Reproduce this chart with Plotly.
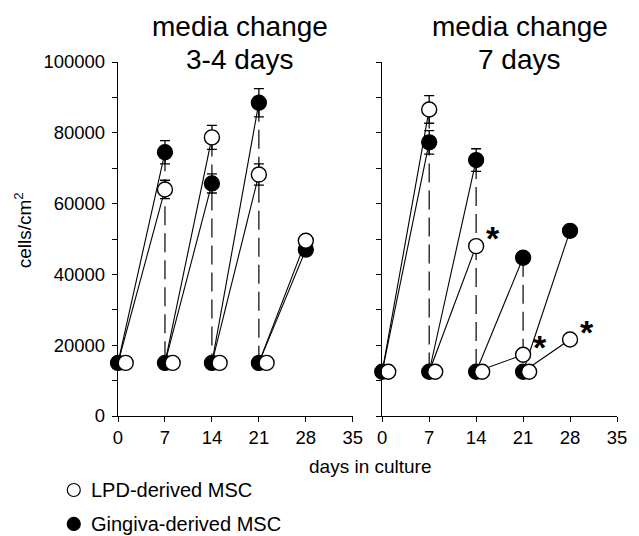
import plotly.graph_objects as go

# ---------------- data ----------------
seed_days = [0, 7, 14, 21]
peak_days = [7, 14, 21, 28]

left_seed = 15000
left_gingiva_peak = [74500, 65700, 88500, 47000]
left_gingiva_err = [3300, 2700, 4000, 0]
left_lpd_peak = [64000, 78700, 68200, 49500]
left_lpd_err = [2600, 3400, 3000, 0]

right_seed = 12500
right_gingiva_peak = [77300, 72300, 44700, 52300]
right_gingiva_err = [3300, 3200, 1200, 0]
right_lpd_peak = [86600, 48000, 17300, 21600]
right_lpd_err = [3900, 0, 0, 0]
right_lpd_signif = [False, True, True, True]

x_ticks = [0, 7, 14, 21, 28, 35]
y_ticks = [0, 20000, 40000, 60000, 80000, 100000]
y_ticktext = ["0", "20000", "40000", "60000", "80000", "100000"]
y_minor_step = 10000

titles = [["media change", "3-4 days"], ["media change", "7 days"]]
legend_names = ["LPD-derived MSC", "Gingiva-derived MSC"]

FONT = "Liberation Sans, Arial, Helvetica, sans-serif"

fig = go.Figure()

panels = [
    ("x", "y", left_seed, left_gingiva_peak, left_gingiva_err, left_lpd_peak, left_lpd_err, 1.15),
    ("x2", "y2", right_seed, right_gingiva_peak, right_gingiva_err, right_lpd_peak, right_lpd_err, 0.9),
]

for xa, ya, seed, g_peak, g_err, l_peak, l_err, off in panels:
    # growth lines
    for peaks in (g_peak, l_peak):
        xs, ys = [], []
        for s, p, v in zip(seed_days, peak_days, peaks):
            xs += [s, p, None]
            ys += [seed, v, None]
        fig.add_trace(go.Scatter(x=xs, y=ys, mode="lines", xaxis=xa, yaxis=ya,
                                 line=dict(color="black", width=1.1),
                                 showlegend=False, hoverinfo="skip", cliponaxis=False))
    # dashed media-change verticals
    xs, ys = [], []
    for p, gv, lv in zip(peak_days[:3], g_peak[:3], l_peak[:3]):
        xs += [p, p, None]
        ys += [max(gv, lv), seed, None]
    fig.add_trace(go.Scatter(x=xs, y=ys, mode="lines", xaxis=xa, yaxis=ya,
                             line=dict(color="black", width=1.2, dash="19px,8px"),
                             showlegend=False, hoverinfo="skip", cliponaxis=False))
    # Gingiva markers (filled)
    fig.add_trace(go.Scatter(
        x=seed_days + peak_days, y=[seed] * 4 + g_peak, mode="markers",
        xaxis=xa, yaxis=ya, cliponaxis=False, showlegend=False,
        error_y=dict(type="data", array=[0] * 4 + g_err, color="black",
                     thickness=1.3, width=5),
        marker=dict(size=15, color="black", line=dict(color="black", width=1.3))))
    # LPD markers (open)
    fig.add_trace(go.Scatter(
        x=[d + off for d in seed_days] + peak_days, y=[seed] * 4 + l_peak,
        mode="markers", xaxis=xa, yaxis=ya, cliponaxis=False, showlegend=False,
        error_y=dict(type="data", array=[0] * 4 + l_err, color="black",
                     thickness=1.3, width=5),
        marker=dict(size=15, color="white", line=dict(color="black", width=1.4))))

# significance asterisks
for d, v, s in zip(peak_days, right_lpd_peak, right_lpd_signif):
    if s:
        fig.add_annotation(x=d, y=v, xref="x2", yref="y2", text="<b>*</b>",
                           showarrow=False, xshift=17, yshift=8,
                           font=dict(family=FONT, size=34, color="black"))

axis_common = dict(showline=True, linecolor="black", linewidth=1.3, ticks="outside",
                   ticklen=5, tickwidth=1.3, tickcolor="black", showgrid=False,
                   zeroline=False, tickfont=dict(family=FONT, size=18.5, color="black"))
minor_y = dict(dtick=y_minor_step, ticks="outside", ticklen=5, tickwidth=1.3,
               tickcolor="black", showgrid=False)

fig.update_layout(
    width=631, height=528,
    margin=dict(l=110, r=13, t=54, b=120),
    paper_bgcolor="white", plot_bgcolor="white",
    showlegend=False,
    xaxis=dict(domain=[0, 0.4705], range=[0, 35], tickvals=x_ticks, **axis_common),
    xaxis2=dict(domain=[0.5295, 1], range=[0, 35], tickvals=x_ticks, anchor="y2", **axis_common),
    yaxis=dict(range=[0, 100000], tickvals=y_ticks, ticktext=y_ticktext,
               ticklabelstandoff=3, minor=minor_y, **axis_common),
    yaxis2=dict(range=[0, 100000], tickvals=y_ticks, showticklabels=False,
                minor=minor_y, anchor="x2", **axis_common),
)

# titles
for cx, lines in zip([0.244, 0.805], titles):
    for yy, t in zip([1.099, 1.006], lines):
        fig.add_annotation(x=cx, y=yy, xref="paper", yref="paper", text=t,
                           showarrow=False, xanchor="center", yanchor="middle",
                           font=dict(family=FONT, size=28, color="black"))

# axis titles
fig.add_annotation(x=-0.19, y=0.525, xref="paper", yref="paper",
                   text="cells/cm<sup>2</sup>", textangle=-90, showarrow=False,
                   xanchor="center", yanchor="middle",
                   font=dict(family=FONT, size=19, color="black"))
fig.add_annotation(x=0.506, y=-0.143, xref="paper", yref="paper",
                   text="days in culture", showarrow=False,
                   xanchor="center", yanchor="middle",
                   font=dict(family=FONT, size=19, color="black"))

# legend
for yy, name, fill in zip([-0.209, -0.305], legend_names, ["white", "black"]):
    fig.add_shape(type="circle", xref="paper", yref="paper",
                  xsizemode="pixel", ysizemode="pixel", xanchor=-0.0886, yanchor=yy,
                  x0=-6.5, x1=6.5, y0=-6.5, y1=6.5,
                  fillcolor=fill, line=dict(color="black", width=1.2))
    fig.add_annotation(x=-0.059, y=yy, xref="paper", yref="paper", text=name,
                       showarrow=False, xanchor="left", yanchor="middle",
                       font=dict(family=FONT, size=20, color="black"))

fig.write_html("out.html")
